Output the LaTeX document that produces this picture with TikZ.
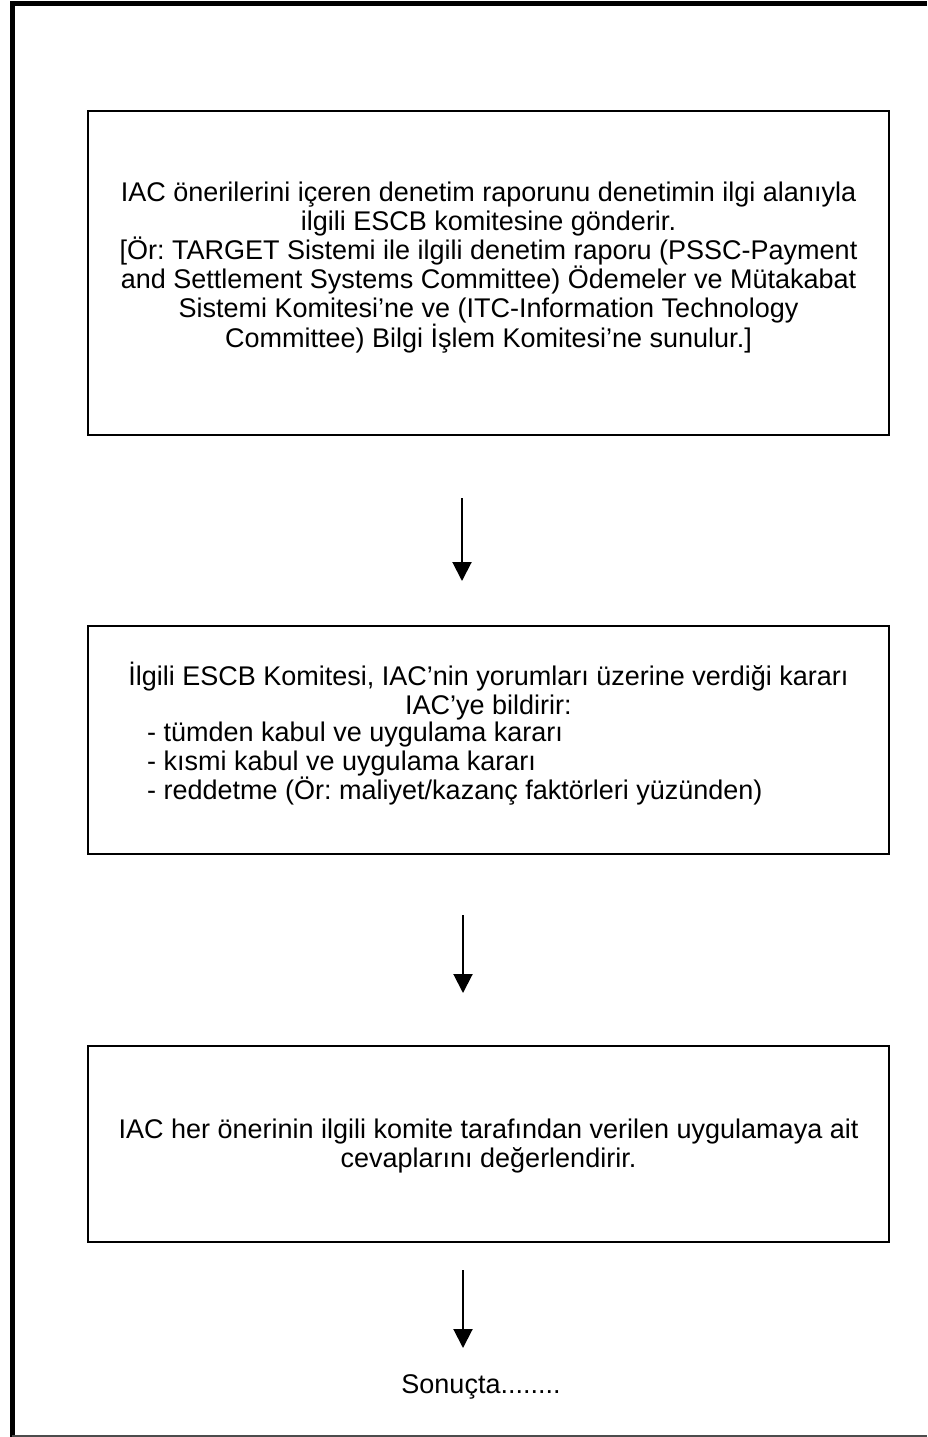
\documentclass[tikz,border=0pt]{standalone}
\usepackage{fontspec}
\setmainfont{Liberation Sans}
\usetikzlibrary{arrows.meta}
\frenchspacing
\begin{document}
\begin{tikzpicture}[x=1pt,y=-1pt,
  stepbox/.style={draw,line width=2pt,minimum width=801pt,inner sep=0pt},
  flow/.style={line width=2pt,-{Triangle[width=19pt,length=19pt]}},
  txt/.style={font=\fontsize{27}{29}\selectfont,inner sep=0pt,align=center}]
\useasboundingbox (0,0) rectangle (927,1437);
% page frame
\draw[line width=5pt] (12,1437) -- (12,4) -- (927,4);
\draw[line width=1.5pt,black!70] (12,1436) -- (927,1436);
% process boxes
\node[stepbox,minimum height=324pt] (b1) at (488.5,273) {};
\node[stepbox,minimum height=228pt] (b2) at (488.5,740) {};
\node[stepbox,minimum height=196pt] (b3) at (488.5,1144) {};
% box texts
\node[txt] (t1) at (488.5,268) {IAC önerilerini içeren denetim raporunu denetimin ilgi alanıyla\\
ilgili ESCB komitesine gönderir.\\
{[}Ör: TARGET Sistemi ile ilgili denetim raporu (PSSC-Payment\\
and Settlement Systems Committee) Ödemeler ve Mütakabat\\
Sistemi Komitesi’ne ve (ITC-Information Technology\\
Committee) Bilgi İşlem Komitesi’ne sunulur.{]}};
\node[txt] (t2) at (488.5,691.5) {İlgili ESCB Komitesi, IAC’nin yorumları üzerine verdiği kararı\\
IAC’ye bildirir:};
\node[txt,align=left,anchor=west] (t2l) at (147,764) {- tümden kabul ve uygulama kararı\\
- kısmi kabul ve uygulama kararı\\
- reddetme (Ör: maliyet/kazanç faktörleri yüzünden)};
\node[txt] (t3) at (488.5,1146) {IAC her önerinin ilgili komite tarafından verilen uygulamaya ait\\
cevaplarını değerlendirir.};
\node[txt] (son) at (481,1387) {Sonuçta........};
% arrows between the steps
\coordinate (a1s) at (462,498);
\coordinate (a1e) at (462,581);
\coordinate (a2s) at (463,915);
\coordinate (a2e) at (463,993);
\coordinate (a3s) at (463,1270);
\coordinate (a3e) at (463,1348);
\draw[flow] (a1s) -- (a1e);
\draw[flow] (a2s) -- (a2e);
\draw[flow] (a3s) -- (a3e);
\end{tikzpicture}
\end{document}
